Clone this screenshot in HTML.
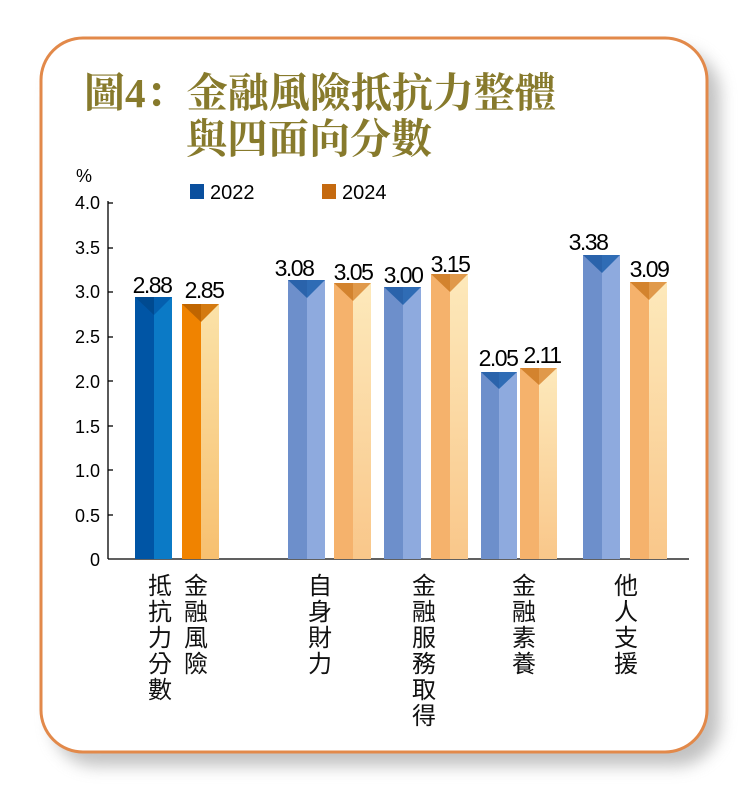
<!DOCTYPE html>
<html><head><meta charset="utf-8"><style>
html,body{margin:0;padding:0;background:#fff;width:749px;height:799px;overflow:hidden}
</style></head><body>
<svg width="749" height="799" xmlns="http://www.w3.org/2000/svg" font-family="Liberation Sans, Noto Sans CJK TC, sans-serif">
<defs>
<filter id="sh" x="-10%" y="-10%" width="130%" height="130%"><feGaussianBlur stdDeviation="8"/></filter>
<linearGradient id="ol" x1="0" y1="0" x2="0" y2="1"><stop offset="0" stop-color="#fbe2a8"/><stop offset="1" stop-color="#f7c070"/></linearGradient>
<linearGradient id="pl" x1="0" y1="0" x2="0" y2="1"><stop offset="0" stop-color="#fde9bb"/><stop offset="1" stop-color="#f9c78a"/></linearGradient>
</defs>
<rect x="52" y="50" width="668" height="716" rx="44" fill="#999" opacity="0.6" filter="url(#sh)"/>
<rect x="41" y="38" width="666" height="714" rx="42" fill="#fff" stroke="#e2894a" stroke-width="3"/>
<g font-family="Liberation Serif, Noto Serif CJK SC, serif" font-weight="bold" fill="#877a2c" font-size="41">
<text x="84" y="107" textLength="472" lengthAdjust="spacingAndGlyphs">圖4：金融風險抵抗力整體</text>
<text x="186" y="153" textLength="246" lengthAdjust="spacingAndGlyphs">與四面向分數</text>
</g>
<text x="76" y="182" font-size="18">%</text>
<rect x="190" y="184" width="14" height="15" fill="#0a4f9e"/>
<text x="210" y="199" font-size="20">2022</text>
<rect x="322" y="184" width="14" height="15" fill="#c56a10"/>
<text x="342" y="199" font-size="20">2024</text>
<g font-size="18" text-anchor="end">
<text x="100" y="209">4.0</text><text x="100" y="254">3.5</text><text x="100" y="298">3.0</text><text x="100" y="343">2.5</text><text x="100" y="388">2.0</text><text x="100" y="433">1.5</text><text x="100" y="477">1.0</text><text x="100" y="522">0.5</text><text x="100" y="566">0</text>
</g>
<g stroke="#000" stroke-width="1.3">
<line x1="108" y1="201" x2="108" y2="559"/><line x1="108" y1="559" x2="689" y2="559"/>
<line x1="108" y1="203" x2="113" y2="203"/><line x1="108" y1="248" x2="113" y2="248"/><line x1="108" y1="292" x2="113" y2="292"/><line x1="108" y1="337" x2="113" y2="337"/><line x1="108" y1="381" x2="113" y2="381"/><line x1="108" y1="426" x2="113" y2="426"/><line x1="108" y1="470" x2="113" y2="470"/><line x1="108" y1="515" x2="113" y2="515"/>
</g>
<g>
<rect x="135" y="297" width="19" height="262" fill="#0055a5"/><rect x="154" y="297" width="18" height="262" fill="#0b7ac6"/>
<polygon points="135,297 154,297 154,315" fill="#004a90"/><polygon points="154,297 172,297 154,315" fill="#045fae"/>
<rect x="182" y="304" width="19" height="255" fill="#f08300"/><rect x="201" y="304" width="18" height="255" fill="url(#ol)"/>
<polygon points="182,304 201,304 201,322" fill="#bf6500"/><polygon points="201,304 219,304 201,322" fill="#d47a10"/>

<rect x="288" y="280" width="19" height="279" fill="#6d8fcb"/><rect x="307" y="280" width="18" height="279" fill="#8eaade"/>
<polygon points="288,280 307,280 307,298" fill="#2a63ab"/><polygon points="307,280 325,280 307,298" fill="#2f6cb5"/>
<rect x="334" y="283" width="19" height="276" fill="#f5b26c"/><rect x="353" y="283" width="18" height="276" fill="url(#pl)"/>
<polygon points="334,283 353,283 353,301" fill="#d3832e"/><polygon points="353,283 371,283 353,301" fill="#e0994a"/>

<rect x="384" y="287" width="19" height="272" fill="#6d8fcb"/><rect x="403" y="287" width="18" height="272" fill="#8eaade"/>
<polygon points="384,287 403,287 403,305" fill="#2a63ab"/><polygon points="403,287 421,287 403,305" fill="#2f6cb5"/>
<rect x="431" y="274" width="19" height="285" fill="#f5b26c"/><rect x="450" y="274" width="18" height="285" fill="url(#pl)"/>
<polygon points="431,274 450,274 450,292" fill="#d3832e"/><polygon points="450,274 468,274 450,292" fill="#e0994a"/>

<rect x="481" y="372" width="18" height="187" fill="#6d8fcb"/><rect x="499" y="372" width="18" height="187" fill="#8eaade"/>
<polygon points="481,372 499,372 499,389" fill="#2a63ab"/><polygon points="499,372 517,372 499,389" fill="#2f6cb5"/>
<rect x="520" y="368" width="19" height="191" fill="#f5b26c"/><rect x="539" y="368" width="18" height="191" fill="url(#pl)"/>
<polygon points="520,368 539,368 539,385" fill="#d3832e"/><polygon points="539,368 557,368 539,385" fill="#e0994a"/>

<rect x="583" y="255" width="19" height="304" fill="#6d8fcb"/><rect x="602" y="255" width="18" height="304" fill="#8eaade"/>
<polygon points="583,255 602,255 602,273" fill="#2a63ab"/><polygon points="602,255 620,255 602,273" fill="#2f6cb5"/>
<rect x="630" y="282" width="19" height="277" fill="#f5b26c"/><rect x="649" y="282" width="18" height="277" fill="url(#pl)"/>
<polygon points="630,282 649,282 649,300" fill="#d3832e"/><polygon points="649,282 667,282 649,300" fill="#e0994a"/>
</g>
<g font-size="23" text-anchor="middle" letter-spacing="-1.5">
<text x="152" y="293">2.88</text><text x="204" y="298">2.85</text>
<text x="294" y="276">3.08</text><text x="353" y="280">3.05</text>
<text x="403" y="283">3.00</text><text x="450" y="272">3.15</text>
<text x="498" y="366">2.05</text><text x="542" y="363">2.11</text>
<text x="588" y="250">3.38</text><text x="649" y="277">3.09</text>
</g>
<g font-size="24" text-anchor="middle" fill="#111">
<text x="160" y="594">抵</text><text x="160" y="620">抗</text><text x="160" y="646">力</text><text x="160" y="672">分</text><text x="160" y="698">數</text>
<text x="196" y="594">金</text><text x="196" y="620">融</text><text x="196" y="646">風</text><text x="196" y="672">險</text>
<text x="320" y="594">自</text><text x="320" y="620">身</text><text x="320" y="646">財</text><text x="320" y="672">力</text>
<text x="424" y="594">金</text><text x="424" y="620">融</text><text x="424" y="646">服</text><text x="424" y="672">務</text><text x="424" y="698">取</text><text x="424" y="724">得</text>
<text x="524" y="594">金</text><text x="524" y="620">融</text><text x="524" y="646">素</text><text x="524" y="672">養</text>
<text x="626" y="594">他</text><text x="626" y="620">人</text><text x="626" y="646">支</text><text x="626" y="672">援</text>
</g>
</svg>
</body></html>
